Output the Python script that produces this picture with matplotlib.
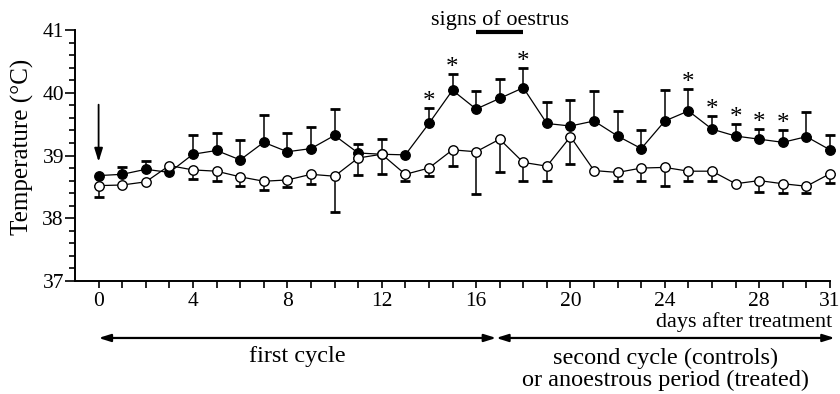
import numpy as np
import matplotlib.pyplot as plt

plt.rcParams['font.family'] = 'Liberation Serif'

days = np.arange(32)
treated = [38.68, 38.70, 38.78, 38.73, 39.02, 39.08, 38.93, 39.21, 39.06, 39.11,
           39.32, 39.04, 39.02, 39.01, 39.51, 40.04, 39.74, 39.91, 40.08, 39.51,
           39.47, 39.55, 39.31, 39.11, 39.55, 39.71, 39.42, 39.31, 39.26, 39.21,
           39.30, 39.09]
treated_err = [0, 0.12, 0.14, 0, 0.30, 0.28, 0.31, 0.44, 0.30, 0.35,
               0.42, 0.14, 0.24, 0, 0.24, 0.26, 0.28, 0.31, 0.32, 0.34,
               0.41, 0.48, 0.40, 0.30, 0.50, 0.35, 0.21, 0.19, 0.16, 0.19,
               0.39, 0.24]
control = [38.52, 38.53, 38.58, 38.84, 38.77, 38.75, 38.66, 38.59, 38.61, 38.70,
           38.67, 38.96, 39.02, 38.70, 38.80, 39.09, 39.06, 39.26, 38.89, 38.83,
           39.30, 38.76, 38.73, 38.80, 38.81, 38.75, 38.75, 38.55, 38.60, 38.55,
           38.51, 38.71]
control_err = [0.18, 0, 0, 0, 0.14, 0.16, 0.14, 0.14, 0.11, 0.15,
               0.57, 0.27, 0.32, 0.10, 0.12, 0.25, 0.67, 0.53, 0.30, 0.24,
               0.44, 0, 0.14, 0.21, 0.30, 0.16, 0.16, 0, 0.18, 0.15,
               0.11, 0.15]
signif_days = [14, 15, 18, 25, 26, 27, 28, 29]
oestrus_days = (16, 18)
first_cycle = (0, 16.85)
second_cycle = (16.85, 31.2)

treated = np.array(treated)
treated_err = np.array(treated_err)
control = np.array(control)
control_err = np.array(control_err)

fig = plt.figure(figsize=(8.4, 3.94), dpi=100)
ax = fig.add_axes([75/840, 1-281/394, 755/840, 251/394])

# error bars (treated: up, control: down)
m = treated_err > 0
ax.errorbar(days[m], treated[m], yerr=[np.zeros(m.sum()), treated_err[m]],
            fmt='none', ecolor='black', elinewidth=1.1, capsize=3.5, capthick=2,
            zorder=2, clip_on=False)
m = control_err > 0
ax.errorbar(days[m], control[m], yerr=[control_err[m], np.zeros(m.sum())],
            fmt='none', ecolor='black', elinewidth=1.1, capsize=3.5, capthick=2,
            zorder=2, clip_on=False)

ax.plot(days, treated, '-o', color='black', lw=0.9, ms=6.8,
        mfc='black', mec='black', zorder=3, clip_on=False)
ax.plot(days, control, '-o', color='black', lw=0.9, ms=6.8,
        mfc='white', mec='black', mew=1, zorder=4, clip_on=False)

for d in signif_days:
    ax.annotate('*', xy=(d, treated[d] + treated_err[d]), xytext=(0, -3.5),
                textcoords='offset points', ha='center', va='bottom', fontsize=18)

# treatment arrow
ax.annotate('', xy=(0, 38.90), xytext=(0, 39.81),
            arrowprops=dict(arrowstyle='-|>,head_length=0.8,head_width=0.25',
                            color='black', lw=1.3, shrinkA=0, shrinkB=0))

# signs of oestrus
ax.plot(oestrus_days, [40.97, 40.97], color='black', lw=3, clip_on=False,
        solid_capstyle='butt')
ax.text(17, 1.02, 'signs of oestrus', transform=ax.get_xaxis_transform(),
        ha='center', va='baseline', fontsize=16)

ax.set_xlim(-1, 31)
ax.set_ylim(37, 41)
ax.set_xticks(days, minor=True)
ax.set_xticks([0, 4, 8, 12, 16, 20, 24, 28, 31])
ax.set_yticks([37, 38, 39, 40, 41])
ax.set_yticks(np.arange(37, 41.01, 0.2), minor=True)
ax.tick_params(axis='x', which='both', direction='out', length=5, width=1.2,
               labelsize=15.5, pad=3)
ax.tick_params(axis='y', which='major', direction='out', length=7, width=1.2,
               labelsize=15.5, pad=1)
ax.tick_params(axis='y', which='minor', direction='out', length=4, width=1.2)
for s in ['top', 'right']:
    ax.spines[s].set_visible(False)
for s in ['left', 'bottom']:
    ax.spines[s].set_linewidth(1.4)

fig.text(22/840, 1-146.5/394, 'Temperature (\u00b0C)', rotation=90,
         ha='center', va='center', fontsize=18)

tr = ax.get_xaxis_transform()
ax.text(31.1, -0.165, 'days after treatment', transform=tr,
        ha='right', va='center', fontsize=16)

for seg in (first_cycle, second_cycle):
    ax.annotate('', xy=(seg[0], -0.227), xytext=(seg[1], -0.227),
                xycoords=tr, textcoords=tr, annotation_clip=False,
                arrowprops=dict(arrowstyle='<|-|>,head_length=0.7,head_width=0.22',
                                color='black', lw=1.6, shrinkA=0, shrinkB=0))

ax.text(np.mean(first_cycle), -0.30, 'first cycle', transform=tr,
        ha='center', va='center', fontsize=17.5)
ax.text(np.mean(second_cycle), -0.31, 'second cycle (controls)', transform=tr,
        ha='center', va='center', fontsize=17.5)
ax.text(np.mean(second_cycle), -0.395, 'or anoestrous period (treated)',
        transform=tr, ha='center', va='center', fontsize=17.5)

fig.savefig('out.png', dpi=100)
